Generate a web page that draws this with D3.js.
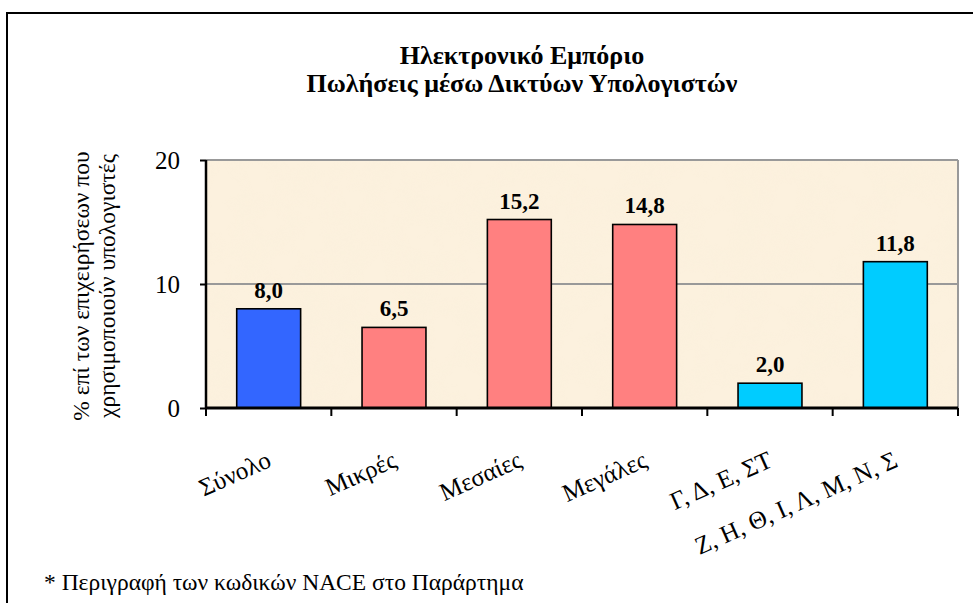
<!DOCTYPE html>
<html><head><meta charset="utf-8">
<script src="https://cdn.jsdelivr.net/npm/d3@7"></script>
<style>body{margin:0;background:#fff}svg{display:block}</style>
</head><body>
<svg id="c" width="973" height="603"></svg>
<script>
const categories = ["Σύνολο","Μικρές","Μεσαίες","Μεγάλες","Γ, Δ, Ε, ΣΤ","Ζ, Η, Θ, Ι, Λ, Μ, Ν, Σ"];
const values = [8.0, 6.5, 15.2, 14.8, 2.0, 11.8];
const valueLabels = ["8,0","6,5","15,2","14,8","2,0","11,8"];
const barGroups = ["total","size","size","size","sector","sector"];
const groupColors = {total:"#3366FF", size:"#FF8080", sector:"#00CCFF"};
const yTicks = [0, 10, 20];
const titleLines = ["Ηλεκτρονικό Εμπόριο","Πωλήσεις μέσω Δικτύων Υπολογιστών"];
const yTitleLines = ["% επί των επιχειρήσεων που","χρησιμοποιούν υπολογιστές"];
const footnote = "* Περιγραφή των κωδικών NACE στο Παράρτημα";

const FONT = "'Liberation Serif', 'Times New Roman', Tinos, serif";
const svg = d3.select("#c").style("font-family", FONT);
const L = 206, R = 958, T = 160, B = 408;
const x = d3.scaleBand().domain(categories).range([L, R]).paddingInner(0.49).paddingOuter(0.245);
const xb = d3.scaleBand().domain(categories).range([L, R]);
const y = d3.scaleLinear().domain([0, 20]).range([B, T]);

svg.append("rect").attr("x",7).attr("y",13).attr("width",1000).attr("height",700)
  .attr("fill","none").attr("stroke","#000").attr("stroke-width",2);

const defs = svg.append("defs");
const f = defs.append("filter").attr("id","tex").attr("x",0).attr("y",0).attr("width",1).attr("height",1);
f.append("feTurbulence").attr("type","fractalNoise").attr("baseFrequency","0.03").attr("numOctaves",3).attr("seed",4);
f.append("feColorMatrix").attr("type","matrix")
  .attr("values","0 0 0 0 0.93  0 0 0 0 0.86  0 0 0 0 0.68  0 0 0 0.5 -0.2");
svg.append("rect").attr("x",L).attr("y",T).attr("width",R-L).attr("height",B-T).attr("fill","#FCF1DE");
svg.append("rect").attr("x",L).attr("y",T).attr("width",R-L).attr("height",B-T).attr("filter","url(#tex)").attr("opacity",0.5);

svg.append("g").selectAll("line").data(yTicks.filter(d=>d>0)).join("line")
  .attr("x1",L).attr("x2",R).attr("y1",d=>y(d)).attr("y2",d=>y(d))
  .attr("stroke","#999").attr("stroke-width",2);
svg.append("line").attr("x1",R).attr("x2",R).attr("y1",T).attr("y2",B).attr("stroke","#999").attr("stroke-width",2);

svg.append("g").selectAll("rect").data(categories).join("rect")
  .attr("x",d=>x(d)).attr("width",x.bandwidth())
  .attr("y",(d,i)=>y(values[i])).attr("height",(d,i)=>y(0)-y(values[i]))
  .attr("fill",(d,i)=>groupColors[barGroups[i]]).attr("stroke","#000").attr("stroke-width",1.6);

svg.append("g").selectAll("text").data(categories).join("text")
  .attr("x",d=>x(d)+x.bandwidth()/2).attr("y",(d,i)=>y(values[i])-11)
  .attr("text-anchor","middle").attr("font-weight","bold").attr("font-size",23)
  .style("font-family",FONT).text((d,i)=>valueLabels[i]);

const ya = svg.append("g").attr("transform",`translate(${L},0)`)
  .call(d3.axisLeft(y).tickValues(yTicks).tickSize(6).tickPadding(20));
ya.attr("font-family",null);
ya.select(".domain").attr("stroke","#000").attr("stroke-width",2.5).attr("d",`M0,${T}V${B}`);
ya.selectAll(".tick line").attr("stroke","#000").attr("stroke-width",2);
ya.selectAll(".tick text").attr("font-size",25).style("font-family",FONT).attr("fill","#000");

const xa = svg.append("g").attr("transform",`translate(0,${B})`)
  .call(d3.axisBottom(xb).tickSize(0).tickFormat(""));
xa.select(".domain").attr("stroke","#000").attr("stroke-width",3).attr("d",`M${L},0H${R}`);
svg.append("g").selectAll("line").data(d3.range(categories.length+1)).join("line")
  .attr("x1",i=>L+i*xb.step()).attr("x2",i=>L+i*xb.step()).attr("y1",B).attr("y2",B+8)
  .attr("stroke","#000").attr("stroke-width",2);

svg.append("g").selectAll("text").data(categories).join("text")
  .attr("transform",d=>`translate(${xb(d)+xb.bandwidth()/2+4},${B+58}) rotate(-24)`)
  .attr("text-anchor","end").attr("font-size",25).style("font-family",FONT).text(d=>d);

svg.append("g").selectAll("text").data(titleLines).join("text")
  .attr("x",522).attr("y",(d,i)=>64+i*28).attr("text-anchor","middle")
  .attr("font-weight","bold").attr("font-size",26).style("font-family",FONT).text(d=>d);

svg.append("g").selectAll("text").data(yTitleLines).join("text")
  .attr("transform",(d,i)=>`translate(${89+i*26},${286}) rotate(-90)`)
  .attr("text-anchor","middle").attr("font-size",23.5).style("font-family",FONT).text(d=>d);

svg.append("text").attr("x",44).attr("y",590).attr("font-size",23.5).style("font-family",FONT).text(footnote);
</script>
</body></html>
